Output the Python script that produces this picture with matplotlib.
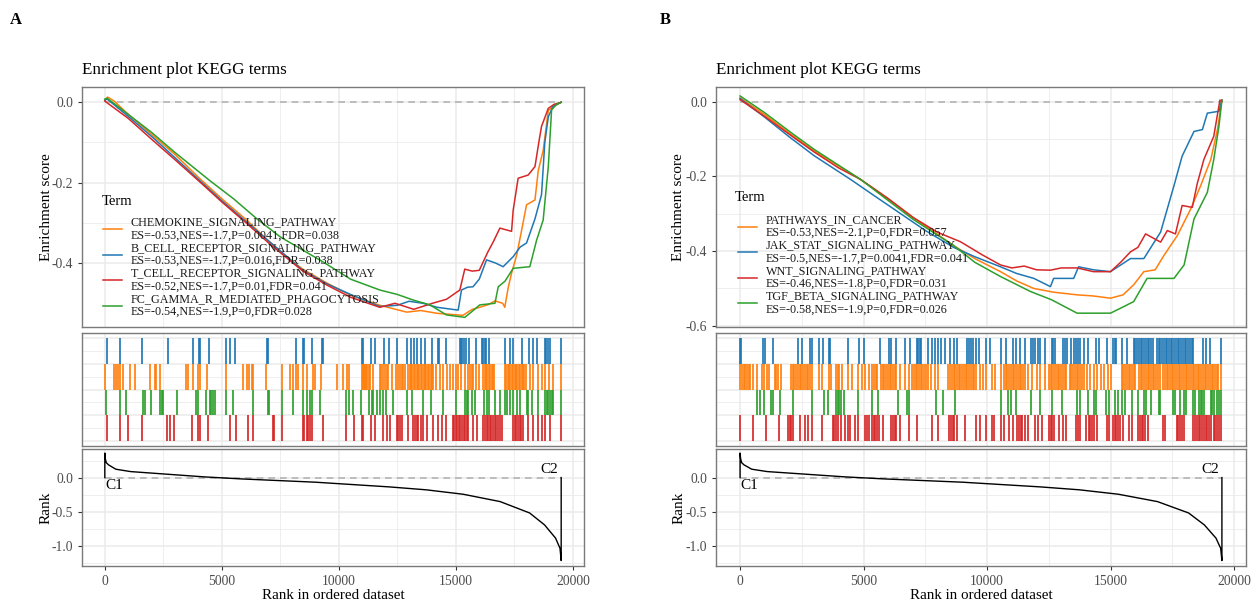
import matplotlib
matplotlib.use("Agg")
import matplotlib.pyplot as plt
from matplotlib.lines import Line2D
import numpy as np

plt.rcParams['font.family'] = ['Liberation Serif', 'DejaVu Serif']

ORANGE, BLUE, RED, GREEN = '#FF7F0E', '#1F77B4', '#D62728', '#2CA02C'
colors = [ORANGE, BLUE, RED, GREEN]
rug_rows = [2, 3, 0, 1]   # orange, blue, green, red from top

# ---------------- panel A data ----------------
terms_a = ['CHEMOKINE_SIGNALING_PATHWAY', 'B_CELL_RECEPTOR_SIGNALING_PATHWAY',
           'T_CELL_RECEPTOR_SIGNALING_PATHWAY', 'FC_GAMMA_R_MEDIATED_PHAGOCYTOSIS']
stats_a = ['ES=-0.53,NES=-1.7,P=0.0041,FDR=0.038', 'ES=-0.53,NES=-1.7,P=0.016,FDR=0.038',
           'ES=-0.52,NES=-1.7,P=0.01,FDR=0.041', 'ES=-0.54,NES=-1.9,P=0,FDR=0.028']

chemokine_es = [(0, 0.005), (120, 0.013), (400, 0.003), (1000, -0.03), (2000, -0.08), (3000, -0.13),
                (4060, -0.19), (5000, -0.24), (6000, -0.29), (7000, -0.345), (8000, -0.395), (8460, -0.415),
                (9500, -0.45), (10500, -0.48), (11750, -0.505), (12900, -0.522), (13500, -0.518),
                (14200, -0.525), (15300, -0.53), (15700, -0.515), (16020, -0.51), (16400, -0.503),
                (16670, -0.494), (17000, -0.5), (17090, -0.51), (17240, -0.46), (17380, -0.425),
                (17600, -0.38), (17810, -0.318), (18020, -0.255), (18380, -0.243), (18520, -0.17),
                (18730, -0.12), (18950, -0.02), (19200, -0.01), (19500, 0.0)]
bcell_es = [(0, 0.005), (100, 0.008), (1000, -0.035), (2000, -0.085), (3000, -0.138), (4060, -0.195),
            (5000, -0.245), (6000, -0.295), (7000, -0.345), (8460, -0.418), (9500, -0.452),
            (10500, -0.478), (11000, -0.49), (11750, -0.508), (12500, -0.505), (13000, -0.495),
            (13600, -0.5), (14200, -0.51), (15100, -0.517), (15240, -0.467), (15500, -0.46),
            (15730, -0.459), (16000, -0.44), (16310, -0.392), (16700, -0.4), (17020, -0.409),
            (17450, -0.384), (17750, -0.36), (18020, -0.35), (18380, -0.29), (18660, -0.23),
            (18800, -0.1), (18950, -0.036), (19150, -0.01), (19500, 0.0)]
tcell_es = [(0, 0.003), (1000, -0.04), (2000, -0.092), (3000, -0.143), (4060, -0.198), (5000, -0.248),
            (6000, -0.298), (7000, -0.35), (8460, -0.42), (9500, -0.455), (10500, -0.485),
            (11750, -0.51), (12400, -0.5), (13200, -0.515), (14000, -0.5), (14600, -0.49),
            (15170, -0.467), (15380, -0.415), (15700, -0.42), (16000, -0.418), (16370, -0.372),
            (16600, -0.347), (16880, -0.313), (17380, -0.321), (17450, -0.268), (17660, -0.189),
            (18090, -0.181), (18380, -0.16), (18560, -0.094), (18660, -0.06), (18950, -0.015),
            (19200, -0.005), (19500, 0.0)]
fcgamma_es = [(0, 0.008), (100, 0.01), (1000, -0.03), (2000, -0.075), (3000, -0.125), (4490, -0.195),
              (5500, -0.24), (6500, -0.29), (7500, -0.335), (9320, -0.397), (10500, -0.44),
              (11750, -0.467), (12500, -0.478), (13180, -0.492), (13890, -0.504), (14600, -0.529),
              (15380, -0.535), (15700, -0.52), (16020, -0.504), (16670, -0.5), (16810, -0.459),
              (17100, -0.445), (17450, -0.413), (18160, -0.409), (18450, -0.343), (18730, -0.293),
              (18950, -0.16), (19090, -0.019), (19300, -0.005), (19500, 0.0)]

chemokine_hits = [0, 399, 470, 570, 670, 783, 1068, 1282, 1923, 2137, 2208, 2350, 3462, 3561, 3775, 3989,
                  4060, 4345, 5171, 5912, 6054, 6168, 6268, 6339, 6880, 7550, 7906, 8048, 8162, 8262, 8476,
                  8618, 8875, 8975, 9231, 9900, 10185, 10328, 10442, 10970, 11020, 11070, 11120, 11170,
                  11220, 11270, 11320, 11470, 11750, 11820, 11890, 11965, 12040, 12110, 12250, 12460,
                  12530, 12600, 12680, 12750, 12820, 12960, 13020, 13080, 13140, 13200, 13260, 13320,
                  13380, 13440, 13500, 13560, 13620, 13680, 13740, 13800, 13860, 13920, 13980, 14030,
                  14170, 14320, 14460, 14600, 14745, 14860, 15000, 15100, 15240, 15385, 15530, 15600,
                  15670, 15740, 15880, 16000, 16170, 16230, 16290, 16350, 16410, 16470, 16530, 16590,
                  16650, 17090, 17150, 17210, 17270, 17330, 17390, 17450, 17510, 17570, 17630, 17690,
                  17750, 17810, 17870, 17930, 17990, 18160, 18300, 18520, 18660, 18800, 18990, 19130, 19480]
bcell_hits = [114, 670, 1610, 2680, 3750, 4030, 4080, 4460, 5170, 5370, 5570, 6910, 6960, 8160, 8480, 8530,
              8860, 9260, 9310, 10970, 11020, 11370, 11550, 11920, 12150, 12490, 12920, 13080, 13220,
              13350, 13490, 13700, 13960, 14250, 14300, 14570, 15170, 15230, 15280, 15340, 15430, 15570,
              15880, 16100, 16170, 16240, 16300, 16420, 17090, 17310, 17450, 17810, 18130, 18300, 18450,
              18800, 18870, 18950, 19020, 19480]
tcell_hits = [100, 670, 997, 1610, 2664, 2778, 2963, 3746, 3989, 4060, 4416, 5342, 5584, 6125, 6339, 7165,
              7237, 7550, 8447, 8518, 8618, 8690, 8760, 8860, 9302, 10300, 10655, 10968, 11040, 11367,
              11538, 11895, 12065, 12180, 12464, 12535, 12607, 12678, 12963, 13148, 13248, 13320, 13390,
              13490, 13604, 13746, 14030, 14245, 14388, 14573, 14857, 14915, 14985, 15055, 15125, 15195,
              15265, 15335, 15405, 15475, 15528, 15741, 15884, 16170, 16240, 16310, 16380, 16450, 16520,
              16590, 16660, 16730, 16800, 16870, 16950, 17450, 17520, 17590, 17660, 17730, 17800, 17870,
              18091, 18305, 18519, 18661, 18803, 19017, 19480]
fcgamma_hits = [71, 670, 897, 1638, 1710, 1994, 2350, 2422, 2493, 3063, 3917, 3989, 4316, 4487, 4558, 4630,
                4700, 5171, 5484, 6339, 6952, 7008, 7592, 8048, 8476, 8618, 8760, 8860, 9188, 10300, 10442,
                10584, 10926, 11296, 11396, 11467, 11610, 11752, 11895, 12008, 12321, 12891, 13105, 13575,
                13917, 14459, 15000, 15385, 15456, 15528, 15670, 15812, 16197, 16311, 16425, 16667, 16880,
                17094, 17165, 17308, 17450, 17593, 17735, 18020, 18091, 18234, 18519, 18803, 18875, 18950,
                19020, 19090, 19160, 19480]

# ---------------- panel B data ----------------
terms_b = ['PATHWAYS_IN_CANCER', 'JAK_STAT_SIGNALING_PATHWAY', 'WNT_SIGNALING_PATHWAY',
           'TGF_BETA_SIGNALING_PATHWAY']
stats_b = ['ES=-0.53,NES=-2.1,P=0,FDR=0.057', 'ES=-0.5,NES=-1.7,P=0.0041,FDR=0.041',
           'ES=-0.46,NES=-1.8,P=0,FDR=0.031', 'ES=-0.58,NES=-1.9,P=0,FDR=0.026']

cancer_es = [(0, 0.01), (1000, -0.035), (2000, -0.085), (3000, -0.132), (4870, -0.208), (6000, -0.26),
             (7000, -0.31), (8640, -0.385), (9500, -0.42), (10540, -0.455), (11200, -0.48),
             (11890, -0.5), (12700, -0.51), (13640, -0.517), (14300, -0.52), (14990, -0.526),
             (15500, -0.517), (15930, -0.49), (16340, -0.455), (16800, -0.45), (17160, -0.411),
             (17700, -0.358), (18240, -0.287), (18640, -0.225), (19050, -0.155), (19320, -0.075),
             (19500, 0.004)]
jakstat_es = [(0, 0.008), (1000, -0.042), (2000, -0.095), (3000, -0.145), (4465, -0.208), (5500, -0.255),
              (6500, -0.3), (7500, -0.345), (8640, -0.39), (9500, -0.415), (10540, -0.442),
              (11200, -0.46), (11890, -0.473), (12560, -0.495), (12690, -0.473), (13500, -0.473),
              (13700, -0.442), (14300, -0.45), (14990, -0.455), (15800, -0.42), (16340, -0.42),
              (17020, -0.349), (17290, -0.287), (17560, -0.225), (17890, -0.146), (18370, -0.08),
              (18710, -0.075), (18910, -0.031), (19380, -0.026), (19500, 0.004)]
wnt_es = [(0, 0.005), (1000, -0.04), (2000, -0.088), (3000, -0.135), (4000, -0.178), (4870, -0.208),
          (6000, -0.26), (7000, -0.31), (8000, -0.35), (8920, -0.375), (9800, -0.41), (10540, -0.437),
          (11000, -0.445), (11500, -0.44), (12000, -0.45), (12560, -0.451), (13000, -0.445),
          (13640, -0.445), (14300, -0.455), (14990, -0.455), (15400, -0.43), (15800, -0.402),
          (16100, -0.39), (16410, -0.354), (17020, -0.376), (17290, -0.345), (17620, -0.354),
          (17890, -0.278), (18300, -0.283), (18500, -0.22), (18770, -0.155), (19170, -0.093),
          (19420, 0.004), (19500, 0.0)]
tgfbeta_es = [(0, 0.015), (1000, -0.03), (2000, -0.08), (3000, -0.128), (4870, -0.208), (6000, -0.265),
              (7000, -0.315), (8640, -0.385), (9500, -0.43), (10540, -0.468), (11750, -0.508),
              (12600, -0.53), (13640, -0.566), (14990, -0.566), (15390, -0.553), (15930, -0.535),
              (16470, -0.473), (17560, -0.473), (17970, -0.437), (18370, -0.314), (18910, -0.243),
              (19170, -0.155), (19380, -0.066), (19500, 0.004)]

cancer_hits = [0, 70, 140, 210, 280, 350, 420, 520, 700, 870, 980, 1080, 1150, 1400, 1470, 1540, 1640, 2060,
               2130, 2200, 2270, 2340, 2410, 2480, 2550, 2620, 2690, 2760, 2830, 2900, 3180, 3320, 3600,
               3670, 3880, 3950, 4020, 4120, 4370, 4510, 4790, 4930, 5040, 5210, 5350, 5420, 5490, 5560,
               5700, 5770, 5840, 5910, 5980, 6050, 6120, 6190, 6260, 6330, 6470, 6680, 6820, 6960, 7030,
               7100, 7170, 7240, 7310, 7380, 7450, 7520, 7590, 7730, 7870, 8010, 8430, 8500, 8570, 8640,
               8710, 8780, 8850, 8920, 8990, 9060, 9130, 9200, 9270, 9340, 9410, 9480, 9550, 9690, 9830,
               9970, 10190, 10330, 10540, 10680, 10750, 10820, 10890, 10960, 11030, 11100, 11170, 11240,
               11310, 11380, 11450, 11520, 11660, 11800, 12010, 12150, 12360, 12500, 12570, 12640, 12710,
               12780, 12850, 12920, 12990, 13060, 13130, 13200, 13340, 13410, 13480, 13550, 13620, 13690,
               13760, 13830, 13900, 14040, 14180, 14320, 14460, 14600, 14740, 14880, 15020, 15440, 15510,
               15580, 15650, 15720, 15790, 15860, 15930, 16000, 16140, 16210, 16280, 16350, 16420, 16490,
               16560, 16630, 16700, 16770, 16840, 16910, 16980, 17120, 17190, 17260, 17330, 17400, 17470,
               17540, 17610, 17680, 17750, 17820, 17890, 17960, 18030, 18100, 18170, 18240, 18310, 18380,
               18450, 18520, 18590, 18660, 18730, 18800, 18870, 18940, 19010, 19080, 19150, 19220, 19290,
               19360, 19480]
jakstat_hits = [0, 56, 925, 1023, 1345, 2340, 2520, 2830, 2900, 3180, 3360, 3600, 3640, 4370, 4820, 5000,
                5670, 6020, 6120, 6300, 6680, 6860, 7150, 7220, 7290, 7340, 7590, 7760, 7870, 8010, 8150,
                8290, 8500, 8640, 8780, 9200, 9270, 9340, 9410, 9550, 9670, 9970, 10110, 10540, 10750,
                11030, 11170, 11310, 11520, 11770, 11860, 11950, 12040, 12150, 12360, 12610, 12680, 12750,
                13060, 13150, 13230, 13410, 13500, 13590, 13680, 13760, 13900, 14070, 14390, 14530, 14850,
                15090, 15160, 15230, 15470, 15650, 15930, 16000, 16070, 16140, 16210, 16280, 16350, 16420,
                16490, 16560, 16630, 16700, 16870, 16940, 17010, 17080, 17150, 17220, 17290, 17360, 17430,
                17500, 17570, 17640, 17710, 17780, 17850, 17920, 17990, 18060, 18130, 18200, 18270, 18350,
                18720, 18840, 19000, 19480]
wnt_hits = [0, 520, 1050, 1570, 1920, 2000, 2080, 2160, 2410, 2620, 2760, 2900, 3320, 3740, 3810, 3880,
            3950, 4090, 4260, 4350, 4440, 4650, 4790, 5040, 5120, 5210, 5320, 5400, 5480, 5560, 5630, 5800,
            6120, 6190, 6260, 6330, 6470, 6820, 7170, 7760, 7990, 8460, 8530, 8600, 8670, 8780, 9110, 9550,
            9690, 9970, 10190, 10260, 10560, 10680, 10890, 11030, 11210, 11280, 11350, 11420, 11520, 11660,
            11940, 12050, 12220, 12500, 12570, 12640, 12710, 12920, 13060, 13200, 13590, 13680, 13760,
            14010, 14110, 14180, 14250, 14320, 14460, 14850, 14950, 15090, 15160, 15230, 15300, 15370,
            15510, 15720, 15860, 16110, 16180, 16250, 16320, 16390, 16490, 17120, 17190, 17670, 17740,
            17810, 17880, 17950, 18350, 18420, 18490, 18560, 18630, 18700, 18770, 18840, 18910, 18980,
            19050, 19160, 19230, 19300, 19370, 19450]
tgfbeta_hits = [700, 800, 980, 1260, 1320, 1600, 2130, 2900, 3390, 3560, 3880, 3950, 4020, 4090, 4200, 4790,
                5350, 5600, 6400, 6750, 6820, 7940, 8220, 8690, 10560, 10840, 10960, 11170, 11770, 12120,
                12610, 13030, 13620, 13760, 14070, 14320, 14390, 14810, 14950, 15160, 15300, 15440, 15580,
                15860, 16110, 16350, 16420, 16610, 16940, 17010, 17540, 17620, 17820, 17950, 18030, 18350,
                18430, 18560, 18640, 18700, 18760, 19040, 19100, 19160, 19320, 19400, 19480]

# ranked list metric (same gene list in both panels)
rank_x = [0, 0, 20, 60, 158, 470, 1100, 2680, 4260, 5840, 9000, 10000, 12150, 13730, 15310, 16890,
          18150, 18790, 19260, 19450, 19500, 19500]
rank_y = [0.0, 0.36, 0.28, 0.22, 0.187, 0.123, 0.088, 0.049, 0.01, -0.02, -0.068, -0.09, -0.137, -0.18,
          -0.245, -0.353, -0.52, -0.696, -0.89, -1.04, -1.22, 0.0]

N_GENES = 19500
W, H = 1258, 600
GRID = '#EBEBEB'
BORDER = '#7A7A7A'
TICKC = '#4D4D4D'


def style_axes(ax):
    for s in ax.spines.values():
        s.set_color(BORDER)
        s.set_linewidth(1.0)
    ax.set_axisbelow(True)
    ax.grid(which='major', color=GRID, lw=1.1)
    ax.grid(which='minor', color=GRID, lw=0.6)
    ax.tick_params(which='major', colors='#333333', labelcolor=TICKC, labelsize=9.8, length=3, width=0.8)
    ax.tick_params(which='minor', length=0)
    ax.set_xlim(-975, 20475)
    ax.set_xticks([0, 5000, 10000, 15000, 20000])
    ax.set_xticks([2500, 7500, 12500, 17500], minor=True)


def draw_panel(left_px, width_px, letter, letter_x, terms, stats, curves, hits, ylim, yticks,
               term_pos, legend_anchor):
    left, width = left_px / W, width_px / W
    ax1 = fig.add_axes([left, 1 - 327 / H, width, 240.4 / H])
    ax2 = fig.add_axes([left, 1 - 446 / H, width, 113 / H])
    ax3 = fig.add_axes([left, 1 - 566 / H, width, 117 / H])

    # enrichment score
    style_axes(ax1)
    ax1.set_ylim(*ylim)
    ax1.set_yticks(yticks)
    ax1.set_yticklabels(['%.1f' % v for v in yticks])
    ax1.set_yticks(np.array(yticks[:-1]) - 0.1, minor=True)
    ax1.tick_params(axis='x', which='both', bottom=False, labelbottom=False)
    ax1.hlines(0, 0, N_GENES, colors='#B3B3B3', linestyles=(0, (4, 3)), lw=1.2)
    handles = []
    for pts, c in zip(curves, colors):
        xs = [p[0] for p in pts]
        ys = [p[1] for p in pts]
        ax1.plot(xs, ys, color=c, lw=1.1)
        handles.append(Line2D([], [], color=c, lw=1.1))
    labels = ['%s\n%s' % (t, s) for t, s in zip(terms, stats)]
    leg = ax1.legend(handles, labels, loc='upper left', bbox_to_anchor=legend_anchor,
                     frameon=False, fontsize=8.7, handlelength=1.6,
                     handletextpad=0.7, labelspacing=0.05, borderpad=0)
    for t in leg.get_texts():
        t.set_linespacing(1.1)
        t.set_color('#1a1a1a')
    ax1.text(term_pos[0], term_pos[1], 'Term', transform=ax1.transAxes, fontsize=10.5,
             ha='left', va='center')
    ax1.set_ylabel('Enrichment score', fontsize=11, labelpad=4)
    ax1.set_title('Enrichment plot KEGG terms', loc='left', fontsize=12.3, pad=9)

    # hit rug
    style_axes(ax2)
    ax2.set_ylim(-0.2, 4.2)
    ax2.set_yticks([0, 1, 2, 3, 4])
    ax2.set_yticks([0.5, 1.5, 2.5, 3.5], minor=True)
    ax2.tick_params(axis='both', which='both', left=False, bottom=False,
                    labelleft=False, labelbottom=False)
    for h, c, row in zip(hits, colors, rug_rows):
        ax2.vlines(h, row, row + 1, colors=c, lw=1.3, alpha=0.95)

    # ranked list
    style_axes(ax3)
    ax3.set_ylim(-1.30, 0.42)
    ax3.set_yticks([0.0, -0.5, -1.0])
    ax3.set_yticklabels(['0.0', '-0.5', '-1.0'])
    ax3.set_yticks([0.25, -0.25, -0.75, -1.25], minor=True)
    ax3.hlines(0, 0, N_GENES, colors='#B3B3B3', linestyles=(0, (4, 3)), lw=1.2)
    ax3.plot(rank_x, rank_y, color='black', lw=1.0)
    ax3.text(30, -0.02, 'C1', ha='left', va='top', fontsize=11)
    ax3.text(N_GENES - 120, 0.02, 'C2', ha='right', va='bottom', fontsize=11)
    ax3.set_xticklabels(['0', '5000', '10000', '15000', '20000'])
    ax3.set_xlabel('Rank in ordered dataset', fontsize=10.8, labelpad=1)
    ax3.set_ylabel('Rank', fontsize=11, labelpad=4)
    for a in (ax1, ax3):
        a.yaxis.set_label_coords(-0.058, 0.5)

    fig.text(letter_x / W, 1 - 20 / H, letter, fontsize=12, fontweight='bold', va='center')


fig = plt.figure(figsize=(W / 100, H / 100), dpi=100)

draw_panel(82, 502, 'A', 10, terms_a, stats_a,
           [chemokine_es, bcell_es, tcell_es, fcgamma_es],
           [chemokine_hits, bcell_hits, tcell_hits, fcgamma_hits],
           (-0.559, 0.039), [0.0, -0.2, -0.4], (0.04, 0.524), (0.03, 0.485))
draw_panel(716, 530, 'B', 660, terms_b, stats_b,
           [cancer_es, jakstat_es, wnt_es, tgfbeta_es],
           [cancer_hits, jakstat_hits, wnt_hits, tgfbeta_hits],
           (-0.603, 0.040), [0.0, -0.2, -0.4, -0.6], (0.036, 0.537), (0.03, 0.495))

fig.savefig('out.png', dpi=100)
